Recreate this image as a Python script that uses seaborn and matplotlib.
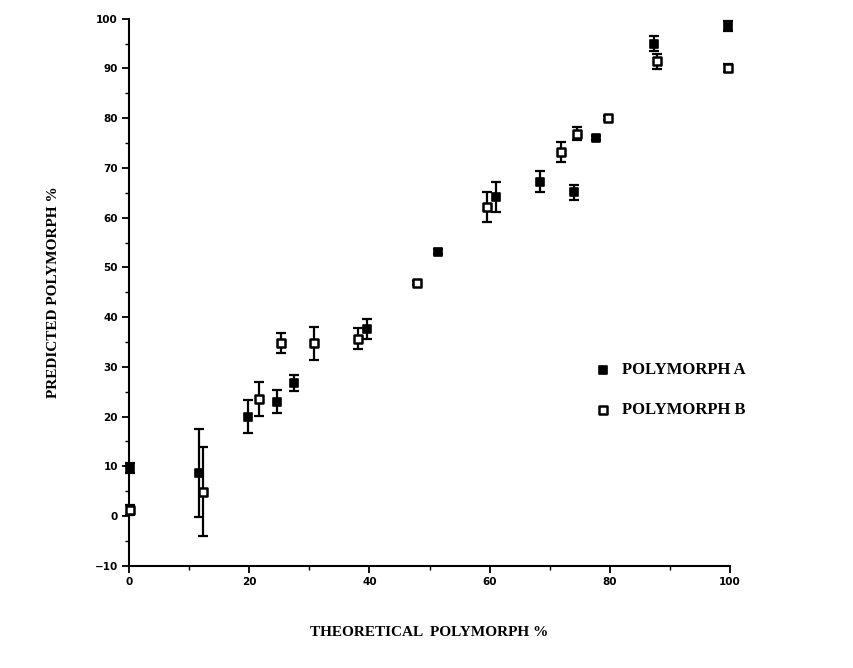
import numpy as np
import pandas as pd
import matplotlib
matplotlib.use("Agg")
import matplotlib.pyplot as plt
import seaborn as sns
from matplotlib.ticker import MultipleLocator

# Polymorph A (filled squares)
a_theor = [0.2, 11.6, 19.8, 24.6, 27.5, 39.6, 51.4, 61.1, 68.4, 74.0, 77.7, 87.3, 99.6]
a_pred = [9.7, 8.7, 20.0, 23.0, 26.7, 37.7, 53.1, 64.2, 67.2, 65.1, 76.1, 95.0, 98.6]
a_err = [1.0, 8.8, 3.4, 2.3, 1.6, 2.0, 0.5, 3.0, 2.1, 1.5, 0.4, 1.5, 1.0]

# Polymorph B (open squares)
b_theor = [0.2, 12.3, 21.6, 25.3, 30.8, 38.1, 47.9, 59.6, 71.9, 74.5, 79.6, 87.8, 99.6]
b_pred = [1.3, 4.9, 23.6, 34.8, 34.7, 35.7, 46.9, 62.2, 73.2, 76.9, 80.0, 91.4, 90.0]
b_err = [1.0, 9.0, 3.4, 2.1, 3.4, 2.1, 0.4, 3.0, 2.1, 1.3, 0.4, 1.6, 0.8]

df_a = pd.DataFrame({"theor": a_theor, "pred": a_pred, "err": a_err})
df_b = pd.DataFrame({"theor": b_theor, "pred": b_pred, "err": b_err})

sns.set_style("ticks")
plt.rcParams["font.family"] = ["DejaVu Sans"]
plt.rcParams["text.color"] = "black"
plt.rcParams["axes.labelcolor"] = "black"
plt.rcParams["xtick.color"] = "black"
plt.rcParams["ytick.color"] = "black"

fig = plt.figure(figsize=(8.54, 6.68), dpi=100)
ax = fig.add_axes([0.151, 0.153, 0.704, 0.819])

for df in (df_a, df_b):
    ax.errorbar(df["theor"], df["pred"], yerr=df["err"], fmt="none",
                ecolor="black", elinewidth=1.6, capsize=3.5, capthick=1.6,
                clip_on=False, zorder=2)

sns.scatterplot(data=df_a, x="theor", y="pred", marker="s", s=36,
                color="black", edgecolor="black", linewidth=1.2,
                label="POLYMORPH A", ax=ax, clip_on=False, zorder=3)
sns.scatterplot(data=df_b, x="theor", y="pred", marker="s", s=36,
                color="white", edgecolor="black", linewidth=1.8,
                label="POLYMORPH B", ax=ax, clip_on=False, zorder=3)

ax.set_xlim(0, 100)
ax.set_ylim(-10, 100)
ax.xaxis.set_major_locator(MultipleLocator(20))
ax.xaxis.set_minor_locator(MultipleLocator(10))
ax.yaxis.set_major_locator(MultipleLocator(10))
ax.yaxis.set_minor_locator(MultipleLocator(5))
ax.tick_params(which="major", length=5, width=1.3, direction="out",
               labelsize=7.5, pad=3)
ax.tick_params(which="minor", length=3, width=1.0, direction="out")
for lab in ax.get_xticklabels() + ax.get_yticklabels():
    lab.set_fontweight("bold")

sns.despine(ax=ax)
for side in ("left", "bottom"):
    ax.spines[side].set_linewidth(1.5)
    ax.spines[side].set_color("black")

ax.set_xlabel("THEORETICAL  POLYMORPH %", family="Liberation Serif",
              fontweight="bold", fontsize=11, labelpad=28)
ax.set_ylabel("PREDICTED POLYMORPH %", family="Liberation Serif",
              fontweight="bold", fontsize=11, labelpad=25)

leg = ax.legend(loc="upper left", bbox_to_anchor=(0.75, 0.40), frameon=False,
                prop={"family": "Liberation Serif", "weight": "bold", "size": 12},
                handletextpad=0.6, labelspacing=1.45, markerscale=0.9,
                handlelength=1.0)

fig.savefig("out.png", dpi=100)
